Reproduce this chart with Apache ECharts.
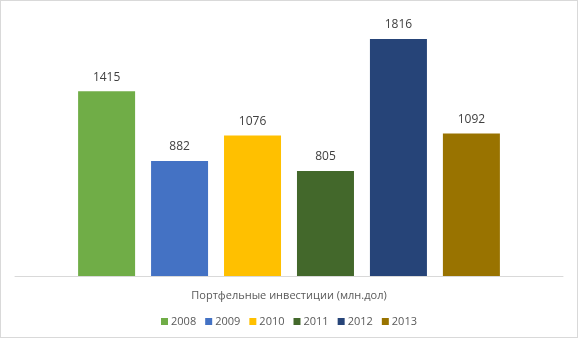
<!DOCTYPE html>
<html>
<head>
<meta charset="utf-8">
<script src="https://cdn.jsdelivr.net/npm/echarts@6/dist/echarts.min.js"></script>
<style>
  html, body { margin: 0; padding: 0; background: #fff; }
  #chart { width: 576px; height: 336px; border: 1px solid #d9d9d9; }
</style>
</head>
<body>
<div id="chart"></div>
<script>
const categories = ['Портфельные инвестиции (млн.дол)']
const years = ['2008', '2009', '2010', '2011', '2012', '2013']
const values = [1415, 882, 1076, 805, 1816, 1092]
const colors = ['#70ad47', '#4472c4', '#ffc000', '#43682b', '#264478', '#997300']

const chart = echarts.init(document.getElementById('chart'))

const series = years.map(function (y, i) {
  return {
    name: y,
    type: 'bar',
    data: [values[i]],
    barWidth: 57,
    barGap: '28%',
    itemStyle: { color: colors[i] },
    label: {
      show: true,
      position: 'top',
      distance: 8,
      color: '#404040',
      fontSize: 12
    }
  }
})

chart.setOption({
  textStyle: { fontFamily: 'Open Sans, sans-serif' },
  animation: false,
  grid: { left: 14, right: 14, top: 14, bottom: 61 },
  legend: {
    data: years,
    bottom: 5,
    icon: 'rect',
    itemWidth: 7,
    itemHeight: 7,
    itemGap: 9,
    textStyle: { color: '#595959', fontSize: 11, padding: [0, 0, 0, -2] }
  },
  xAxis: {
    type: 'category',
    data: categories,
    axisTick: { show: false },
    axisLine: { lineStyle: { color: '#d9d9d9' } },
    axisLabel: { color: '#595959', fontSize: 11, margin: 14 }
  },
  yAxis: {
    type: 'value',
    min: 0,
    max: 2000,
    show: false,
    splitLine: { show: false }
  },
  series: series
})
</script>
</body>
</html>
